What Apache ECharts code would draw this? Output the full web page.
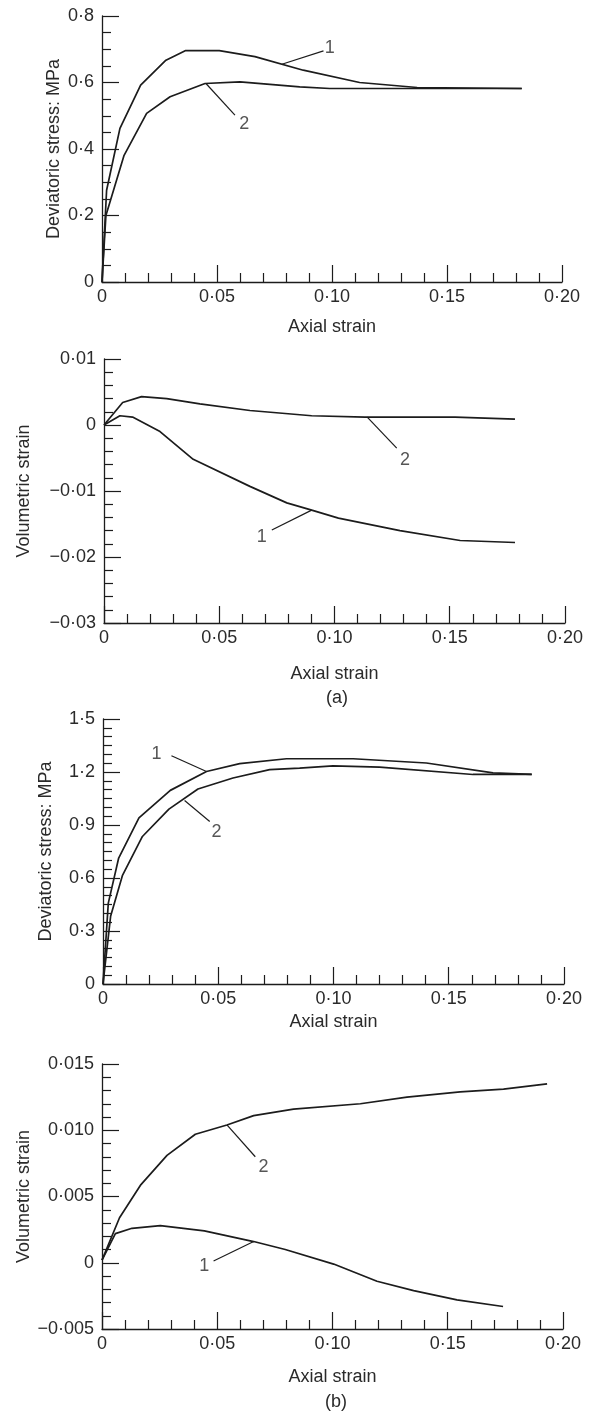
<!DOCTYPE html>
<html>
<head>
<meta charset="utf-8">
<title>Deviatoric stress and volumetric strain against axial strain</title>
<script src="https://cdn.jsdelivr.net/npm/echarts@6/dist/echarts.min.js"></script>
<style>
  html, body { margin: 0; padding: 0; background: #fff; }
  #chart { width: 593px; height: 1412px; }
</style>
</head>
<body>
<div id="chart"></div>
<script>
// ---- Tick labels ----
const strainTickLabels = ['0', '0·05', '0·10', '0·15', '0·20'];
const stressTickLabelsA = ['0', '0·2', '0·4', '0·6', '0·8'];
const volTickLabelsA = ['−0·03', '−0·02', '−0·01', '0', '0·01'];
const stressTickLabelsB = ['0', '0·3', '0·6', '0·9', '1·2', '1·5'];
const volTickLabelsB = ['−0·005', '0', '0·005', '0·010', '0·015'];

// ---- (a) deviatoric stress (MPa) vs axial strain ----
const aStress1Strain = [0, 0.002, 0.0078, 0.0168, 0.0278, 0.0364, 0.051, 0.0665, 0.0875, 0.112, 0.137, 0.1825];
const aStress1Value  = [0, 0.276, 0.462, 0.592, 0.667, 0.696, 0.696, 0.678, 0.637, 0.600, 0.585, 0.582];
const aStress2Strain = [0, 0.0017, 0.0096, 0.0194, 0.0296, 0.0448, 0.060, 0.086, 0.099, 0.1825];
const aStress2Value  = [0, 0.200, 0.381, 0.507, 0.557, 0.597, 0.602, 0.587, 0.582, 0.582];

// ---- (a) volumetric strain vs axial strain ----
const aVol1Strain = [0, 0.0069, 0.0124, 0.0243, 0.0387, 0.0633, 0.0793, 0.0901, 0.1017, 0.1284, 0.1545, 0.1783];
const aVol1Value  = [0, 0.0014, 0.0012, -0.0010, -0.0052, -0.0093, -0.0118, -0.0129, -0.0141, -0.0160, -0.0175, -0.0178];
const aVol2Strain = [0, 0.0081, 0.0163, 0.0272, 0.0416, 0.0633, 0.0901, 0.1132, 0.1523, 0.1783];
const aVol2Value  = [0, 0.0034, 0.0043, 0.0040, 0.0032, 0.0022, 0.0014, 0.0012, 0.0012, 0.0009];

// ---- (b) deviatoric stress (MPa) vs axial strain ----
const bStress1Strain = [0, 0.0023, 0.0068, 0.0156, 0.0292, 0.0449, 0.0593, 0.0796, 0.1085, 0.1403, 0.1692, 0.186];
const bStress1Value  = [0, 0.458, 0.713, 0.940, 1.096, 1.203, 1.247, 1.275, 1.275, 1.251, 1.195, 1.186];
const bStress2Strain = [0, 0.0033, 0.0084, 0.0171, 0.0286, 0.0412, 0.0564, 0.0723, 0.0853, 0.0998, 0.120, 0.1605, 0.186];
const bStress2Value  = [0, 0.383, 0.613, 0.835, 0.990, 1.104, 1.166, 1.213, 1.222, 1.235, 1.228, 1.186, 1.186];

// ---- (b) volumetric strain vs axial strain ----
const bVol1Strain = [0, 0.0058, 0.013, 0.0253, 0.0444, 0.0658, 0.0795, 0.1005, 0.1193, 0.1352, 0.154, 0.174];
const bVol1Value  = [0.0002, 0.0022, 0.0026, 0.0028, 0.0024, 0.0016, 0.0010, -0.0001, -0.0014, -0.0021, -0.0028, -0.0033];
const bVol2Strain = [0, 0.0076, 0.0169, 0.0282, 0.0405, 0.0542, 0.0658, 0.0831, 0.1121, 0.1323, 0.1554, 0.1742, 0.1931];
const bVol2Value  = [0.0002, 0.0034, 0.0059, 0.0081, 0.0097, 0.0104, 0.0111, 0.0116, 0.0120, 0.0125, 0.0129, 0.0131, 0.0135];

// ---- Curve identifiers: leader line (curve end -> label end) and label anchor, in data units ----
const curveNames = ['1', '2'];
const aStressLeaders = [[[0.0782, 0.655], [0.0963, 0.695]], [[0.0452, 0.597], [0.0578, 0.502]]];
const aStressTags    = [[0.0990, 0.705], [0.0619, 0.475]];
const aVolLeaders    = [[[0.0901, -0.0129], [0.0728, -0.0159]], [[0.1142, 0.0012], [0.1270, -0.0035]]];
const aVolTags       = [[0.0684, -0.0170], [0.1306, -0.0053]];
const bStressLeaders = [[[0.0449, 1.203], [0.0297, 1.292]], [[0.0354, 1.039], [0.0463, 0.920]]];
const bStressTags    = [[0.0232, 1.303], [0.0492, 0.858]];
const bVolLeaders    = [[[0.0658, 0.0016], [0.0484, 0.00013]], [[0.0542, 0.0104], [0.0665, 0.0080]]];
const bVolTags       = [[0.0444, -0.00025], [0.0701, 0.00725]];

const zip = (xs, ys) => xs.map((x, i) => [x, ys[i]]);

const FONT = 'Liberation Sans';
const INK = '#1c1c1c';
const TEXT = '#2a2a2a';
const FS = 18;

const panels = [
  { grid: { left: 102, top: 16, width: 460, height: 266 },
    y: { min: 0, max: 0.8, interval: 0.2, minor: 4, labels: stressTickLabelsA, name: 'Deviatoric stress: MPa', gap: 39 },
    xGap: 36,
    curves: [zip(aStress1Strain, aStress1Value), zip(aStress2Strain, aStress2Value)],
    leaders: aStressLeaders, tags: aStressTags },
  { grid: { left: 104, top: 359, width: 461, height: 264 },
    y: { min: -0.03, max: 0.01, interval: 0.01, minor: 5, labels: volTickLabelsA, name: 'Volumetric strain', gap: 71 },
    xGap: 42,
    curves: [zip(aVol1Strain, aVol1Value), zip(aVol2Strain, aVol2Value)],
    leaders: aVolLeaders, tags: aVolTags },
  { grid: { left: 103, top: 719, width: 461, height: 265 },
    y: { min: 0, max: 1.5, interval: 0.3, minor: 6, labels: stressTickLabelsB, name: 'Deviatoric stress: MPa', gap: 48 },
    xGap: 29,
    curves: [zip(bStress1Strain, bStress1Value), zip(bStress2Strain, bStress2Value)],
    leaders: bStressLeaders, tags: bStressTags },
  { grid: { left: 102, top: 1064, width: 461, height: 265 },
    y: { min: -0.005, max: 0.015, interval: 0.005, minor: 5, labels: volTickLabelsB, name: 'Volumetric strain', gap: 69 },
    xGap: 39,
    curves: [zip(bVol1Strain, bVol1Value), zip(bVol2Strain, bVol2Value)],
    leaders: bVolLeaders, tags: bVolTags }
];

const axisLine = { show: true, onZero: false, lineStyle: { color: INK, width: 1.3 } };
const axisTick = { show: true, inside: true, length: 17, lineStyle: { color: INK, width: 1.2 } };
const minorTick = (n) => ({ show: true, splitNumber: n, length: 9, lineStyle: { color: INK, width: 1.2 } });

const option = {
  animation: false,
  backgroundColor: '#ffffff',
  textStyle: { fontFamily: FONT },
  grid: [], xAxis: [], yAxis: [], series: [],
  graphic: [
    { type: 'text', left: 326, top: 689, style: { text: '(a)', font: `${FS}px "${FONT}"`, fill: TEXT } },
    { type: 'text', left: 325, top: 1393, style: { text: '(b)', font: `${FS}px "${FONT}"`, fill: TEXT } }
  ]
};

panels.forEach((p, k) => {
  option.grid.push(p.grid);
  option.xAxis.push({
    type: 'value', gridIndex: k, min: 0, max: 0.2, interval: 0.05,
    name: 'Axial strain', nameLocation: 'middle', nameGap: p.xGap, nameMoveOverlap: false,
    nameTextStyle: { fontFamily: FONT, fontSize: FS, color: TEXT },
    axisLine, axisTick, minorTick: minorTick(5), splitLine: { show: false },
    axisLabel: { fontFamily: FONT, fontSize: FS, color: TEXT, margin: 6,
      formatter: (v, i) => strainTickLabels[i] }
  });
  option.yAxis.push({
    type: 'value', gridIndex: k, min: p.y.min, max: p.y.max, interval: p.y.interval,
    name: p.y.name, nameLocation: 'middle', nameGap: p.y.gap, nameMoveOverlap: false,
    nameTextStyle: { fontFamily: FONT, fontSize: FS, color: TEXT },
    axisLine, axisTick, minorTick: minorTick(p.y.minor), splitLine: { show: false },
    axisLabel: { fontFamily: FONT, fontSize: FS, color: TEXT, margin: 8,
      formatter: (v, i) => p.y.labels[i] }
  });
  p.curves.forEach((c) => {
    option.series.push({
      type: 'line', xAxisIndex: k, yAxisIndex: k, data: c,
      symbol: 'none', smooth: false, lineStyle: { color: INK, width: 1.7 }
    });
  });
  p.leaders.forEach((seg) => {
    option.series.push({
      type: 'line', xAxisIndex: k, yAxisIndex: k, data: seg,
      symbol: 'none', lineStyle: { color: INK, width: 1.2 }
    });
  });
  option.series.push({
    type: 'scatter', xAxisIndex: k, yAxisIndex: k,
    data: p.tags.map((t, i) => ({ value: t, name: curveNames[i] })),
    symbolSize: 1, itemStyle: { color: 'rgba(0,0,0,0)' },
    label: { show: true, position: 'inside', formatter: '{b}',
      fontFamily: FONT, fontSize: FS, color: TEXT }
  });
});

const chart = echarts.init(document.getElementById('chart'), null, { renderer: 'canvas' });
chart.setOption(option);
</script>
</body>
</html>
